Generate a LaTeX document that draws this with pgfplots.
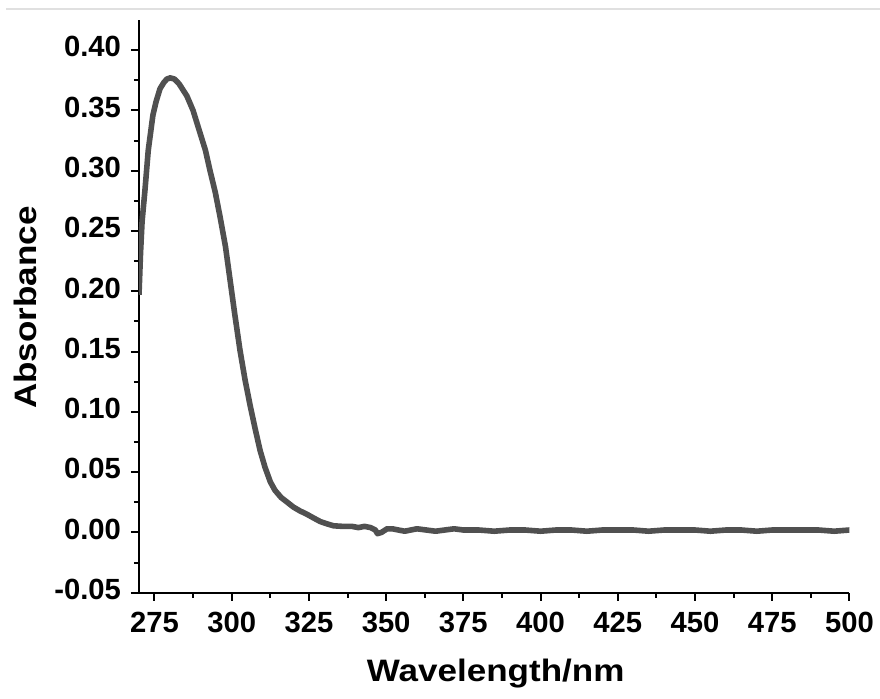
\documentclass[border=0pt]{standalone}
\usepackage{fontspec}
\setmainfont{Liberation Sans}
\newfontfamily\labelfont[FakeStretch=1.13]{Liberation Sans}
\usepackage{pgfplots}
\pgfplotsset{compat=1.18}
\definecolor{curve}{HTML}{505050}

\begin{document}
\begin{tikzpicture}
  \begin{axis}[
    at={(0,0)}, anchor=south west,
    scale only axis,
    width=355.25pt, height=286.35pt,
    xmin=270, xmax=500,
    ymin=-0.05, ymax=0.425,
    axis x line*=bottom,
    axis y line*=left,
    axis line style={line width=1pt, -},
    xtick={275,300,...,500},
    ytick={-0.05,0,0.05,0.10,0.15,0.20,0.25,0.30,0.35,0.40},
    minor x tick num=1,
    minor y tick num=1,
    tick align=outside,
    major tick length=4pt,
    minor tick length=2.5pt,
    tick style={line width=1pt, black},
    scaled y ticks=false,
    /pgf/number format/assume math mode=true,
    typeset ticklabels with strut,
    yticklabel style={/pgf/number format/fixed, /pgf/number format/fixed zerofill, /pgf/number format/precision=2, xshift=-1.5pt},
    tick label style={font=\fontsize{14.6}{17}\selectfont\bfseries},
    xticklabel style={yshift=-0.5pt},
    xlabel={Wavelength/nm},
    ylabel={Absorbance},
    label style={font=\labelfont\fontsize{15.5}{18}\selectfont\bfseries},
    xlabel style={at={(axis description cs:0.502,-0.1554)}, anchor=base},
    ylabel style={at={(axis description cs:-0.16,0.498)}, anchor=center},
  ]
  % measured spectrum
  \addplot[curve, line width=2.8pt, line join=round] coordinates {
    (270.0,0.197) (270.5,0.232) (271.0,0.258) (271.9,0.283) (273.0,0.317)
    (274.5,0.346) (275.5,0.357) (276.8,0.368) (278.0,0.373) (279.0,0.376)
    (280.1,0.377) (281.5,0.376) (283.0,0.372) (285.5,0.362) (287.5,0.350)
    (289.8,0.331) (291.5,0.317) (293.0,0.300) (294.7,0.282) (296.3,0.261)
    (298.0,0.237) (299.5,0.209) (301.0,0.181) (302.7,0.151) (304.3,0.127)
    (306.0,0.105) (307.6,0.086) (309.2,0.068) (310.8,0.054) (312.5,0.042)
    (314.0,0.035) (316.0,0.029) (318.0,0.025) (320.0,0.021) (322.0,0.018)
    (324.4,0.015) (326.5,0.012) (328.7,0.009) (331.0,0.007) (333.0,0.0055)
    (336.0,0.005) (339.0,0.005) (341.0,0.004) (343.0,0.005) (345.0,0.004)
    (346.5,0.002) (347.2,-0.001) (348.5,0.000) (350.3,0.003) (352.0,0.003)
    (354.0,0.002) (356.0,0.001) (358.0,0.002) (360.0,0.003) (363.0,0.002)
    (366.0,0.001) (369.0,0.002) (372.0,0.003) (375.0,0.002) (380.0,0.002)
    (385.0,0.001) (390.0,0.002) (395.0,0.002) (400.0,0.001) (405.0,0.002)
    (410.0,0.002) (415.0,0.001) (420.0,0.002) (425.0,0.002) (430.0,0.002)
    (435.0,0.001) (440.0,0.002) (445.0,0.002) (450.0,0.002) (455.0,0.001)
    (460.0,0.002) (465.0,0.002) (470.0,0.001) (475.0,0.002) (480.0,0.002)
    (485.0,0.002) (490.0,0.002) (495.0,0.001) (500.0,0.002)
  };
  \end{axis}
  \draw[black!12, line width=0.8pt] (-66.5pt,291.8pt) -- (370.5pt,291.8pt);
  \pgfresetboundingbox
  \path (-69.5pt,-52.65pt) rectangle (370.5pt,296.35pt);
\end{tikzpicture}
\end{document}
